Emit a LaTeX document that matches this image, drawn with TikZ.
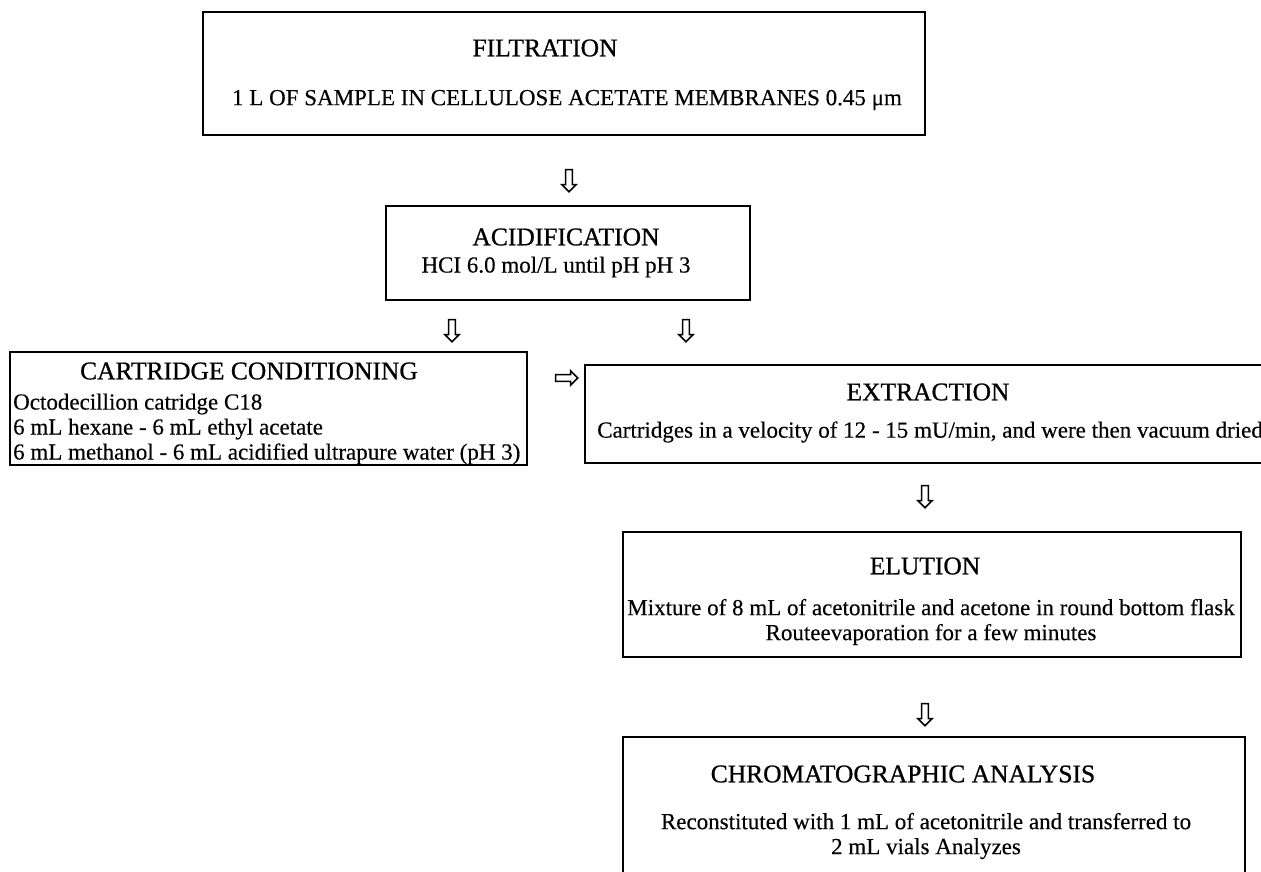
\documentclass[tikz,border=0pt]{standalone}
\usepackage{fontspec}
\setmainfont{Liberation Serif}[FakeBold=0.3]
\newfontfamily\headfont{Liberation Serif}[FakeBold=0.8]
\usetikzlibrary{shapes.arrows}

\tikzset{
  stepbox/.style = {draw, line width = 1.8pt, inner sep = 0pt},
  title/.style = {font = \headfont\fontsize{25.5}{28}\selectfont, inner sep = 0pt},
  body/.style = {font = \fontsize{23}{25}\selectfont, inner sep = 0pt, align = center},
  downarrow/.style = {single arrow, draw, line width = 1.6pt, shape border rotate = 270,
    minimum height = 22pt, minimum width = 14pt, single arrow head extend = 2.5pt, inner sep = 1.5pt}
}

\begin{document}
\begin{tikzpicture}[x = 1pt, y = -1pt]
    \useasboundingbox (0,0) rectangle (1261,872);

    % boxes
    \node[stepbox, minimum width = 722pt, minimum height = 123pt] (filt) at (564,73.5) {};
    \node[stepbox, minimum width = 364pt, minimum height = 94pt] (acid) at (568,253) {};
    \node[stepbox, minimum width = 517pt, minimum height = 113pt] (cond) at (268.5,408.5) {};
    \node[stepbox, minimum width = 720pt, minimum height = 98pt] (extr) at (945,414) {};
    \node[stepbox, minimum width = 618pt, minimum height = 125pt] (elut) at (932,594.5) {};
    \node[stepbox, minimum width = 622pt, minimum height = 160pt] (chrom) at (934,817) {};

    % texts
    \node[title] (filt-t) at (545,48) {FILTRATION};
    \node[body] (filt-b) at (567,100) {1 L OF SAMPLE IN CELLULOSE ACETATE MEMBRANES 0.45 μm};
    \node[title] (acid-t) at (566,237) {ACIDIFICATION};
    \node[body] (acid-b) at (556,267) {HCI 6.0 mol/L until pH pH 3};
    \node[title] (cond-t) at (249,371) {CARTRIDGE CONDITIONING};
    \node[body, align = left, anchor = west] (cond-b) at (13,429) {Octodecillion catridge C18\\6 mL hexane - 6 mL ethyl acetate\\6 mL methanol - 6 mL acidified ultrapure water (pH 3)};
    \node[title] (extr-t) at (928,392) {EXTRACTION};
    \node[body] (extr-b) at (930,432) {Cartridges in a velocity of 12 - 15 mU/min, and were then vacuum dried};
    \node[title] (elut-t) at (925,566) {ELUTION};
    \node[body] (elut-b) at (931,622) {Mixture of 8 mL of acetonitrile and acetone in round bottom flask\\Routeevaporation for a few minutes};
    \node[title] (chrom-t) at (903,774) {CHROMATOGRAPHIC ANALYSIS};
    \node[body] (chrom-b) at (926,836) {Reconstituted with 1 mL of acetonitrile and transferred to\\2 mL vials Analyzes};

    % arrows
    \node[downarrow] (a1) at (569,179) {};
    \node[downarrow] (a2) at (452,329) {};
    \node[downarrow] (a3) at (686,329) {};
    \node[downarrow, shape border rotate = 0] (a4) at (565,378) {};
    \node[downarrow] (a5) at (925,495) {};
    \node[downarrow] (a6) at (925,713) {};
\end{tikzpicture}
\end{document}
